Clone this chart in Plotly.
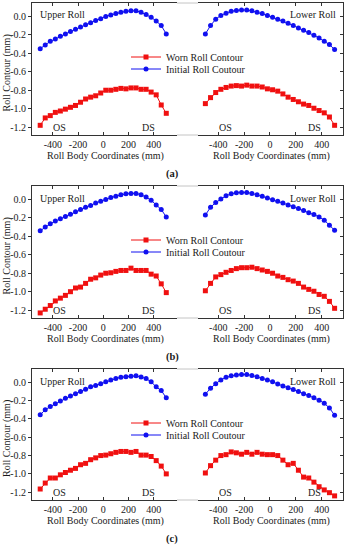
import plotly.graph_objects as go

# ---------------- data ----------------
x_pos = [-500, -460, -420, -380, -340, -300, -260, -220, -180, -140, -100, -60, -20,
         20, 60, 100, 140, 180, 220, 260, 300, 340, 380, 420, 460, 500]

# panel (a)
upper_worn_a = [-1.18, -1.10, -1.075, -1.04, -1.025, -1.005, -0.985, -0.965, -0.93, -0.895, -0.875, -0.86, -0.83,
                -0.80, -0.80, -0.79, -0.78, -0.785, -0.775, -0.775, -0.79, -0.79, -0.82, -0.85, -0.96, -1.05]
upper_init_a = [-0.35, -0.31, -0.27, -0.245, -0.215, -0.19, -0.165, -0.14, -0.115, -0.09, -0.07, -0.045, -0.025,
                0.0, 0.015, 0.03, 0.045, 0.055, 0.06, 0.06, 0.045, 0.02, -0.01, -0.05, -0.10, -0.19]
lower_worn_a = [-0.945, -0.88, -0.825, -0.79, -0.77, -0.755, -0.75, -0.755, -0.745, -0.755, -0.755, -0.765, -0.785,
                -0.795, -0.81, -0.84, -0.875, -0.90, -0.925, -0.95, -0.965, -0.995, -1.02, -1.045, -1.09, -1.18]
lower_init_a = [-0.19, -0.10, -0.03, 0.01, 0.035, 0.055, 0.065, 0.07, 0.07, 0.06, 0.045, 0.03, 0.01,
                -0.01, -0.03, -0.05, -0.075, -0.10, -0.125, -0.15, -0.175, -0.205, -0.235, -0.27, -0.305, -0.36]

# panel (b)
upper_worn_b = [-1.23, -1.19, -1.15, -1.10, -1.07, -1.04, -1.0, -0.96, -0.95, -0.91, -0.865, -0.85, -0.82,
                -0.80, -0.795, -0.78, -0.77, -0.77, -0.745, -0.77, -0.77, -0.77, -0.81, -0.83, -0.915, -1.01]
upper_init_b = [-0.34, -0.30, -0.265, -0.235, -0.21, -0.185, -0.16, -0.135, -0.11, -0.085, -0.065, -0.04, -0.02,
                0.0, 0.02, 0.035, 0.05, 0.06, 0.065, 0.065, 0.05, 0.025, -0.01, -0.06, -0.11, -0.19]
lower_worn_b = [-0.99, -0.91, -0.84, -0.815, -0.79, -0.77, -0.75, -0.74, -0.74, -0.735, -0.75, -0.765, -0.78,
                -0.80, -0.83, -0.845, -0.87, -0.885, -0.91, -0.95, -0.975, -0.995, -1.03, -1.05, -1.105, -1.18]
lower_init_b = [-0.17, -0.085, -0.035, 0.005, 0.04, 0.06, 0.072, 0.075, 0.075, 0.065, 0.05, 0.035, 0.015,
                -0.005, -0.02, -0.04, -0.06, -0.08, -0.10, -0.12, -0.145, -0.165, -0.19, -0.225, -0.28, -0.335]

# panel (c)
upper_worn_c = [-1.165, -1.10, -1.045, -1.045, -1.01, -0.985, -0.96, -0.94, -0.90, -0.885, -0.845, -0.825, -0.80,
                -0.795, -0.78, -0.765, -0.755, -0.755, -0.765, -0.755, -0.795, -0.795, -0.81, -0.855, -0.915, -1.0]
upper_init_c = [-0.355, -0.30, -0.265, -0.235, -0.205, -0.175, -0.15, -0.125, -0.10, -0.075, -0.05, -0.035, -0.015,
                0.005, 0.025, 0.04, 0.055, 0.06, 0.065, 0.07, 0.058, 0.04, 0.005, -0.05, -0.09, -0.17]
lower_worn_c = [-0.99, -0.91, -0.85, -0.80, -0.79, -0.76, -0.77, -0.785, -0.765, -0.785, -0.765, -0.785, -0.79,
                -0.79, -0.80, -0.85, -0.90, -0.885, -0.96, -1.035, -1.045, -1.09, -1.14, -1.175, -1.205, -1.24]
lower_init_c = [-0.13, -0.065, -0.015, 0.025, 0.055, 0.07, 0.08, 0.085, 0.085, 0.075, 0.06, 0.04, 0.025,
                0.005, -0.02, -0.04, -0.06, -0.08, -0.10, -0.125, -0.145, -0.17, -0.195, -0.23, -0.28, -0.36]

y_tick_vals = [0.0, -0.2, -0.4, -0.6, -0.8, -1.0, -1.2]
y_tick_text = ["0.0", "-0.2", "-0.4", "-0.6", "-0.8", "-1.0", "-1.2"]
x_tick_vals = [-400, -200, 0, 200, 400]
x_tick_text = ["-400", "-200", "0", "200", "400"]

panel_labels = ["(a)", "(b)", "(c)"]
series_names = ["Worn Roll Contour", "Initial Roll Coutour"]

# ---------------- layout helpers ----------------
W, H = 349, 550
FONT = "Liberation Serif"
TXT = "#1a1a1a"
AX = "#333333"
RED = "#f01010"
BLUE = "#1010f0"

def px(x):
    return x / W

def py(y):
    return 1 - y / H

panels = [
    dict(top=3, bottom=135, uw=upper_worn_a, ui=upper_init_a, lw=lower_worn_a, li=lower_init_a),
    dict(top=186, bottom=318, uw=upper_worn_b, ui=upper_init_b, lw=lower_worn_b, li=lower_init_b),
    dict(top=369, bottom=500, uw=upper_worn_c, ui=upper_init_c, lw=lower_worn_c, li=lower_init_c),
]
XL = (32, 177)
XR = (198, 343)

fig = go.Figure()
layout = dict(
    width=W, height=H,
    margin=dict(l=0, r=0, t=0, b=0),
    paper_bgcolor="white", plot_bgcolor="white",
    font=dict(family=FONT, size=10, color=TXT),
    showlegend=True,
)
annotations = []
shapes = []

def add_line(xname, yname, xs, ys, color, symbol, name, legend_id, show):
    fig.add_trace(go.Scatter(
        x=xs, y=ys, mode="lines+markers", name=name,
        xaxis=xname, yaxis=yname,
        line=dict(color=color, width=1),
        marker=dict(color=color, size=5, symbol=symbol),
        showlegend=show, legend=legend_id,
    ))

for p, pan in enumerate(panels):
    li = 2 * p + 1
    ri = 2 * p + 2
    ydom = [py(pan["bottom"]), py(pan["top"])]
    yrange = [-1.285, 0.145]
    leg_w = "legend" if p == 0 else f"legend{2 * p + 1}"
    leg_i = f"legend{2 * p + 2}"

    add_line(f"x{li}", f"y{li}", x_pos, pan["uw"], RED, "square", series_names[0], leg_w, True)
    add_line(f"x{li}", f"y{li}", x_pos, pan["ui"], BLUE, "circle", series_names[1], leg_i, True)
    add_line(f"x{ri}", f"y{ri}", x_pos, pan["lw"], RED, "square", series_names[0], leg_w, False)
    add_line(f"x{ri}", f"y{ri}", x_pos, pan["li"], BLUE, "circle", series_names[1], leg_i, False)

    common_x = dict(showgrid=False, zeroline=False, showline=True, linecolor=AX, linewidth=1,
                    ticks="inside", ticklen=3, tickcolor=AX, mirror="ticks",
                    tickvals=x_tick_vals, ticktext=x_tick_text,
                    tickfont=dict(family=FONT, size=10, color=TXT))
    layout[f"xaxis{li}"] = dict(common_x, domain=[px(XL[0]), px(XL[1])], anchor=f"y{li}", range=[-565, 585])
    layout[f"xaxis{ri}"] = dict(common_x, domain=[px(XR[0]), px(XR[1])], anchor=f"y{ri}", range=[-557, 565])

    common_y = dict(showgrid=False, zeroline=False, showline=True, linecolor=AX, linewidth=1,
                    ticklen=3, tickcolor=AX, domain=ydom, range=yrange,
                    tickvals=y_tick_vals, ticktext=y_tick_text,
                    tickfont=dict(family=FONT, size=10, color=TXT))
    layout[f"yaxis{li}"] = dict(common_y, anchor=f"x{li}", side="left", ticks="outside")
    layout[f"yaxis{ri}"] = dict(common_y, anchor=f"x{ri}", side="right", ticks="inside",
                                showticklabels=False)

    # legends
    top = pan["top"]
    for k, lid in enumerate([leg_w, leg_i]):
        layout[lid] = dict(x=px(126), y=py(top + 54 + 12 * k), xanchor="left", yanchor="middle",
                           bgcolor="rgba(0,0,0,0)", borderwidth=0,
                           font=dict(family=FONT, size=10, color=TXT))

    # broken-axis gap lines (lighter)
    for yy in (pan["top"], pan["bottom"]):
        shapes.append(dict(type="line", xref="paper", yref="paper",
                           x0=px(XL[1]), x1=px(XR[0]), y0=py(yy), y1=py(yy),
                           line=dict(color="#c4c4c4", width=1)))

    bot = pan["bottom"]
    texts = [
        ("Upper Roll", 38, top + 12, "left"),
        ("Lower Roll", 338, top + 12, "right"),
        ("OS", 60, bot - 8, "center"),
        ("DS", 148, bot - 8, "center"),
        ("OS", 225, bot - 8, "center"),
        ("DS", 314, bot - 8, "center"),
        ("Roll Body Coordinates (mm)", 105, bot + 21, "center"),
        ("Roll Body Coordinates (mm)", 271, bot + 21, "center"),
    ]
    for t, x, y, xa in texts:
        annotations.append(dict(text=t, x=px(x), y=py(y), xref="paper", yref="paper",
                                xanchor=xa, yanchor="middle", showarrow=False,
                                font=dict(family=FONT, size=10, color=TXT)))
    annotations.append(dict(text="Roll Contour (mm)", x=px(6.5), y=py((top + bot) / 2 + 4),
                            xref="paper", yref="paper", textangle=-90, showarrow=False,
                            xanchor="center", yanchor="middle",
                            font=dict(family=FONT, size=10, color=TXT)))
    label_y = [174, 357, 539][p]
    annotations.append(dict(text="<b>" + panel_labels[p] + "</b>", x=px(172), y=py(label_y),
                            xref="paper", yref="paper", showarrow=False,
                            xanchor="center", yanchor="middle",
                            font=dict(family=FONT, size=10.5, color=TXT)))

layout["annotations"] = annotations
layout["shapes"] = shapes
fig.update_layout(**layout)
fig.write_html("out.html",
               config={"displayModeBar": False, "staticPlot": True},
               post_script="document.body.style.margin='0px';document.body.style.overflow='hidden';")
